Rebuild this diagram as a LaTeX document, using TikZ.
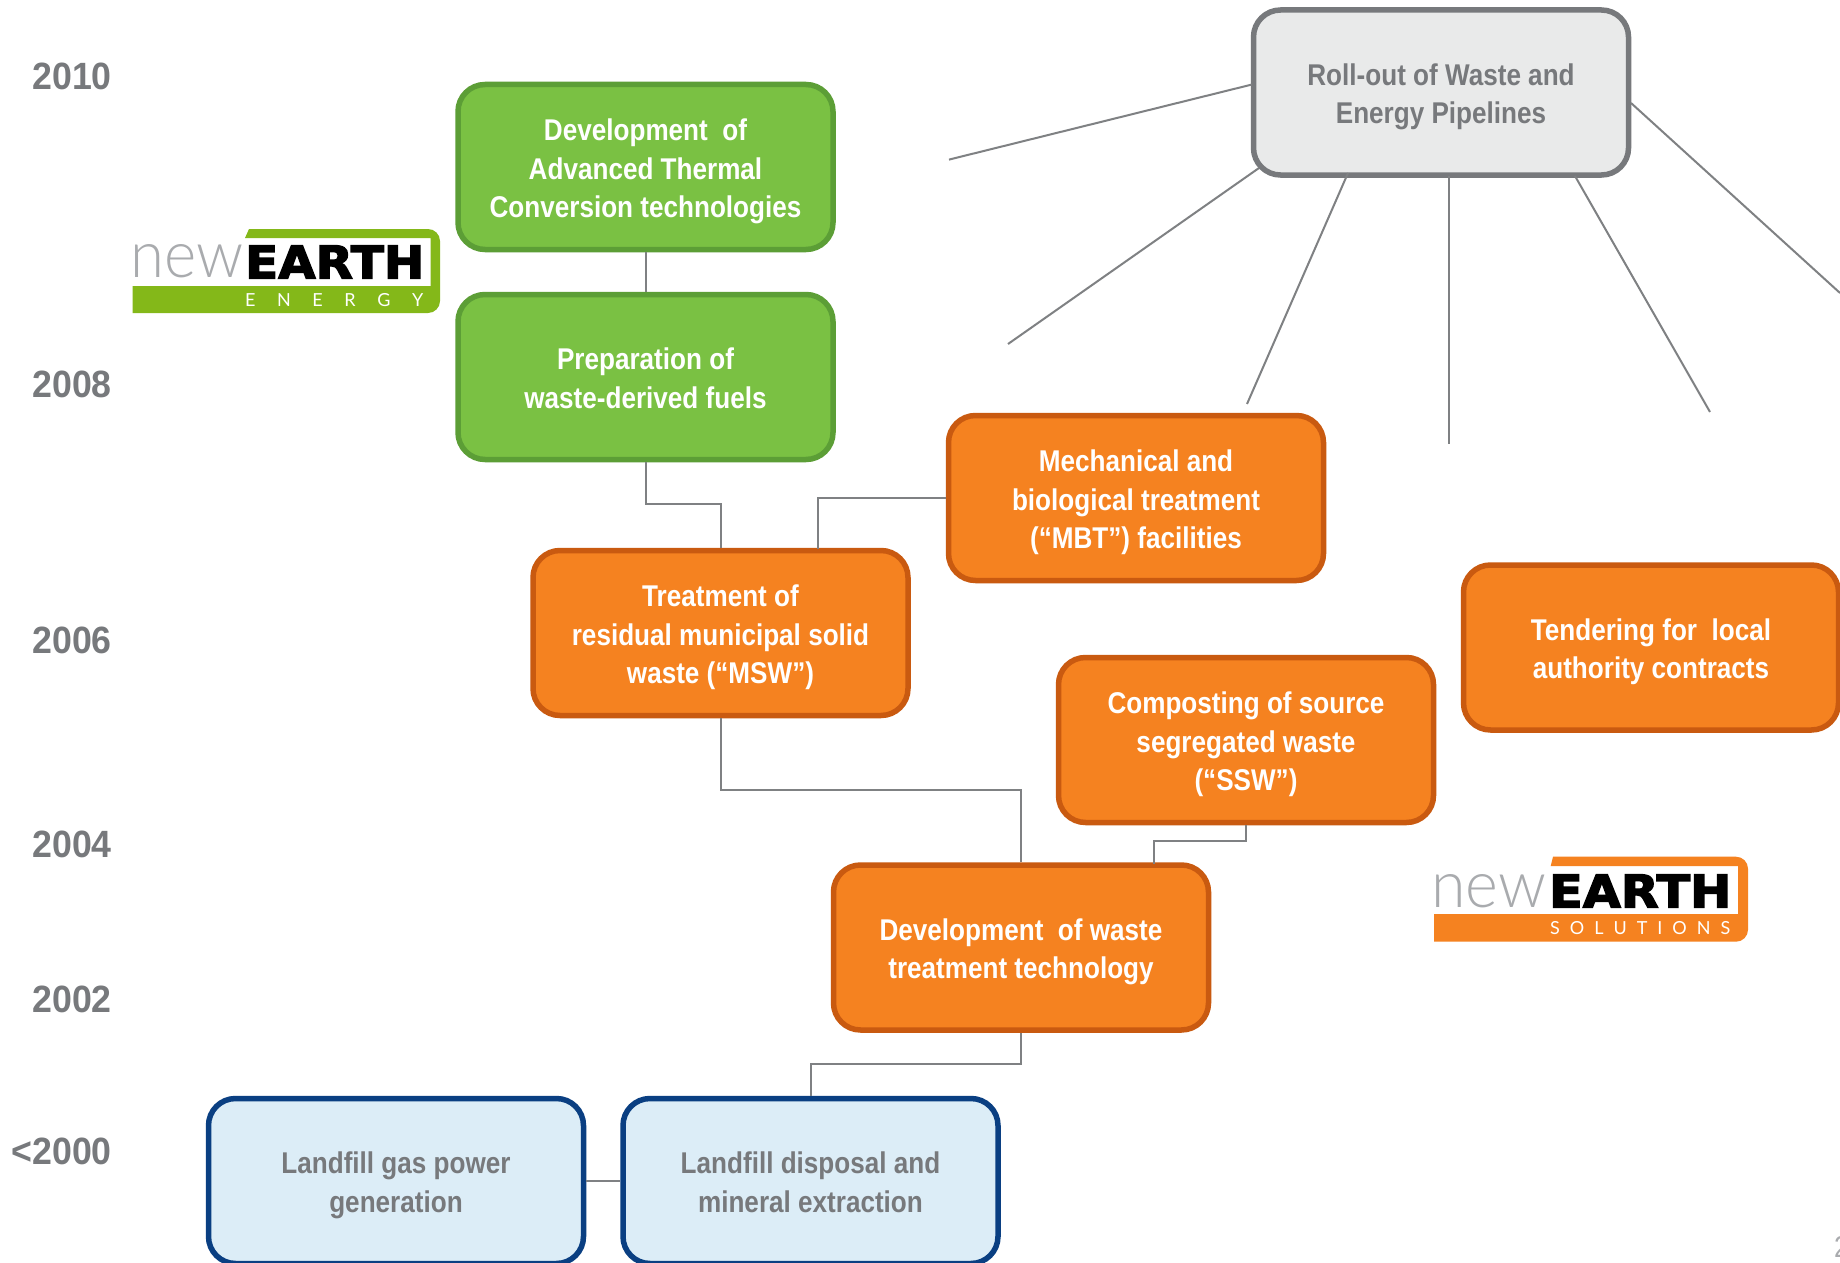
\documentclass[tikz,border=0pt]{standalone}
\usepackage{fontspec}
\usetikzlibrary{backgrounds}
\setmainfont{Liberation Sans}[FakeStretch=0.87]
\newfontfamily\yearfont{Liberation Sans}[FakeStretch=0.94]
\newfontfamily\thinfont{Lato Light}
\newfontfamily\heavyfont{DejaVu Sans}[FakeBold=3]
\newfontfamily\tagfont{Lato}
\definecolor{txtgray}{HTML}{77797C}
\definecolor{lngray}{HTML}{7F8183}
\definecolor{grfill}{HTML}{7AC143}
\definecolor{grline}{HTML}{5C9E36}
\definecolor{orfill}{HTML}{F58220}
\definecolor{orline}{HTML}{C95A10}
\definecolor{blfill}{HTML}{DCEDF7}
\definecolor{blline}{HTML}{0A3F82}
\definecolor{gyfill}{HTML}{E9EAEA}
\definecolor{logogreen}{HTML}{84B819}
\definecolor{logoorange}{HTML}{F58220}
\definecolor{logothin}{HTML}{A9ABAE}
\newcommand{\ts}{\rule{0pt}{32pt}}
\newcommand{\boxbotstrut}{\rule[-8pt]{0pt}{8pt}}
\tikzset{
  box/.style={draw,rounded corners=27pt,line width=5.5pt,minimum width=375pt,minimum height=165pt,
    align=center,inner sep=0pt,font=\fontsize{30}{38.5}\selectfont\bfseries,
    execute at end node=\boxbotstrut},
  greenbox/.style={box,fill=grfill,draw=grline,text=white},
  orangebox/.style={box,fill=orfill,draw=orline,text=white},
  bluebox/.style={box,fill=blfill,draw=blline,text=txtgray},
  graybox/.style={box,fill=gyfill,draw=txtgray,text=txtgray},
  yearlabel/.style={anchor=east,inner sep=0pt,text=txtgray,font=\fontsize{38}{38}\yearfont\bfseries},
  link/.style={draw=lngray,line width=2pt},
  spoke/.style={draw=lngray,line width=2pt},
  newword/.style={anchor=west,inner sep=0pt,text=logothin},
  earthword/.style={anchor=west,inner sep=0pt,text=black},
  tagword/.style={anchor=west,inner sep=0pt,text=white,font=\fontsize{18}{18}\tagfont}
}
\begin{document}
\begin{tikzpicture}[x=1pt,y=-1pt]
\useasboundingbox (0,0) rectangle (1840,1263);
\clip (0,0) rectangle (1840,1263);
\fill[white] (0,0) rectangle (1840,1263);

% years
\node[yearlabel] (y2010) at (112,76) {2010};
\node[yearlabel] (y2008) at (112,384) {2008};
\node[yearlabel] (y2006) at (112,640) {2006};
\node[yearlabel] (y2004) at (112,844) {2004};
\node[yearlabel] (y2002) at (112,999) {2002};
\node[yearlabel] (y2000) at (112,1151) {<2000};

% boxes
\node[greenbox] (atc) at (645.5,167) {\ts Development~~of\\Advanced Thermal\\Conversion technologies};
\node[greenbox] (fuel) at (645.5,377) {\ts Preparation of\\waste-derived fuels};
\node[orangebox] (msw) at (720.5,633) {\ts Treatment of\\residual municipal solid\\waste (“MSW”)};
\node[orangebox] (mbt) at (1136,498) {\ts Mechanical and\\biological treatment\\(“MBT”) facilities};
\node[orangebox] (tender) at (1651,647.5) {\ts Tendering for~~local\\authority contracts};
\node[orangebox] (ssw) at (1246,740) {\ts Composting of source\\segregated waste\\(“SSW”)};
\node[orangebox] (dev) at (1021,947.5) {\ts Development~~of waste\\treatment technology};
\node[bluebox] (gas) at (396,1181) {\ts Landfill gas power\\generation};
\node[bluebox] (fill) at (810.5,1181) {\ts Landfill disposal and\\mineral extraction};
\node[graybox] (roll) at (1441,92.5) {\ts Roll-out of Waste and\\Energy Pipelines};

% connectors
\coordinate (mswtap) at (818,549);
\coordinate (devtap) at (1153.5,864);
\draw[link] (atc.south) -- (fuel.north);
\draw[link] (fuel.south) -- ++(0,42) -| (msw.north);
\draw[link] (mbt.west) -| (mswtap);
\draw[link] (msw.south) -- ++(0,71.5) -| (dev.north);
\draw[link] (ssw.south) -- ++(0,16) -| (devtap);
\draw[link] (dev.south) -- ++(0,31.5) -| (fill.north);
\draw[link] (gas.east) -- (fill.west);

% spokes from the roll-out box
\coordinate (sa0) at (1252,84.5);   \coordinate (sa1) at (949,159.6);
\coordinate (sb0) at (1259,168);    \coordinate (sb1) at (1008,344);
\coordinate (sc0) at (1348,173);    \coordinate (sc1) at (1247,404);
\coordinate (sd0) at (1449,176);    \coordinate (sd1) at (1449,444);
\coordinate (se0) at (1575,176);    \coordinate (se1) at (1710,412);
\coordinate (sf0) at (1631,103);    \coordinate (sf1) at (1840,293);
\draw[spoke] (sa0) -- (sa1);
\draw[spoke] (sb0) -- (sb1);
\draw[spoke] (sc0) -- (sc1);
\draw[spoke] (sd0) -- (sd1);
\draw[spoke] (se0) -- (se1);
\draw[spoke] (sf0) -- (sf1);

% logo: new EARTH ENERGY
\fill[logogreen] (132.7,286) -- (430.7,286) -- (430.7,238) -- (245,238) -- (249,229)
  -- (428,229) arc[start angle=-90,end angle=0,radius=12] -- (440,301) arc[start angle=0,end angle=90,radius=12] -- (132.7,313) -- cycle;
\node[newword] (enew) at (130,261.5) {\resizebox{113pt}{33pt}{\thinfont new}};
\node[earthword] (eearth) at (245,262) {\resizebox{179pt}{33pt}{\heavyfont\bfseries EARTH}};
\node[tagword] (etag) at (245,300.5) {\makebox[178pt][s]{E\hfill N\hfill E\hfill R\hfill G\hfill Y}};

% logo: new EARTH SOLUTIONS
\fill[logoorange] (1434,914) -- (1738,914) -- (1738,866) -- (1550.7,866) -- (1553,856.7)
  -- (1736,856.7) arc[start angle=-90,end angle=0,radius=12] -- (1748,929.7) arc[start angle=0,end angle=90,radius=12] -- (1434,941.7) -- cycle;
\node[newword] (snew) at (1431,891.5) {\resizebox{115pt}{33pt}{\thinfont new}};
\node[earthword] (searth) at (1549,891) {\resizebox{182pt}{33pt}{\heavyfont\bfseries EARTH}};
\node[tagword] (stag) at (1550,928.5) {\makebox[180pt][s]{S\hfill O\hfill L\hfill U\hfill T\hfill I\hfill O\hfill N\hfill S}};

% page number, cut by the edge
\node[anchor=north west,inner sep=0pt,text=logothin,font=\fontsize{30}{30}\selectfont] (pageno) at (1834,1236) {2};
\end{tikzpicture}
\end{document}
